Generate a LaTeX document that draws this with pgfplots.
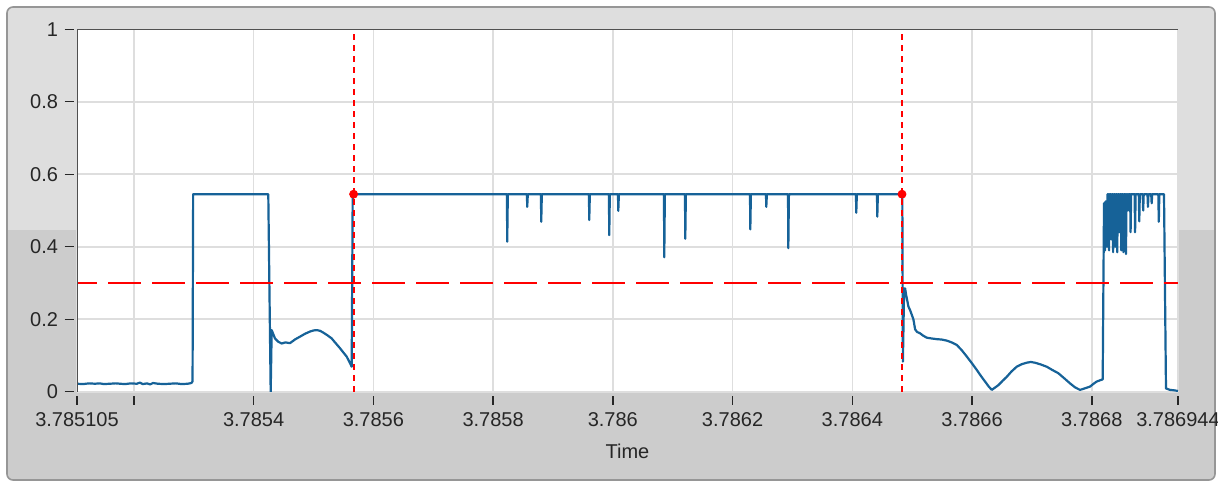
\documentclass[border=0pt]{standalone}
\usepackage{fontspec}
\setmainfont{Liberation Sans}
\usepackage{pgfplots}
\pgfplotsset{compat=1.18}
\definecolor{sig}{RGB}{22,98,152}
\definecolor{bglight}{RGB}{222,222,222}
\definecolor{bgdark}{RGB}{204,204,204}
\definecolor{frameline}{RGB}{150,150,150}
\definecolor{gridc}{RGB}{222,222,222}
\definecolor{boxline}{RGB}{80,80,80}
\definecolor{cur}{RGB}{255,0,0}
\begin{document}
\begin{tikzpicture}[x=1pt,y=1pt]
\useasboundingbox (-38.5,-45.15) rectangle (570.5,195.85);
\fill[white] (-38.5,-45.15) rectangle (570.5,195.85);
\begin{scope}
\clip[rounded corners=3pt] (-35,-44.15) rectangle (569,192.35);
\fill[bglight] (-35,80.85) rectangle (569,192.35);
\fill[bgdark] (-35,-44.15) rectangle (569,80.85);
\end{scope}
\draw[frameline, line width=0.8pt, rounded corners=3pt] (-35,-44.15) rectangle (569,192.35);
\begin{axis}[
  at={(0,0)}, anchor=south west,
  scale only axis, width=550.5pt, height=181.2pt,
  xmin=105, xmax=1944, ymin=0, ymax=1,
  axis background/.style={fill=white},
  axis line style={draw=none},
  tick pos=left, tick align=outside,
  major tick length=4.5pt,
  xtick style={black!85, line width=0.7pt, yshift=-2pt},
  ytick style={black!85, line width=0.7pt, xshift=-1.7pt},
  xtick={105,200,400,600,800,1000,1200,1400,1600,1800,1944},
  xticklabels={3.785105,,3.7854,3.7856,3.7858,3.786,3.7862,3.7864,3.7866,3.7868,3.786944},
  ytick={0,0.2,0.4,0.6,0.8,1},
  yticklabels={0,0.2,0.4,0.6,0.8,1},
  /pgf/number format/assume math mode=true,
  ticklabel style={font=\fontsize{10}{12}\selectfont, text=black!85},
  xticklabel style={yshift=-2.5pt},
  yticklabel style={xshift=-1.5pt},
  grid=major,
  major grid style={gridc, line width=0.8pt},
  xlabel={Time},
  xlabel style={font=\fontsize{10}{12}\selectfont, text=black!85, at={(rel axis cs:0.5,0)}, anchor=center, yshift=-30pt},
  clip=true,
]
\addplot[color=sig, line width=1.1pt, line join=round] coordinates {
(105,0.022) (115,0.021) (125,0.023) (135,0.022) (143,0.023) (150,0.021) (160,0.022) (170,0.023) (177,0.022) (185,0.021) (195,0.023) (205,0.022) (210,0.025) (215,0.021) (222,0.023) (227,0.020) (232,0.024) (240,0.022) (250,0.021) (260,0.022) (270,0.023) (280,0.021) (290,0.022) (296,0.024) (298,0.028) (299,0.545)
(424.5,0.545) (428.5,0.0) (430.2,0.17) (435.7,0.147) (441,0.138) (446.9,0.133) (453,0.136) (460.8,0.134) (469,0.144) (477.5,0.152) (486,0.16) (494.2,0.166) (500,0.169) (505.4,0.170) (511,0.168) (516.4,0.163) (523,0.156) (530.4,0.147) (537,0.134) (544.3,0.120) (550,0.108) (555.4,0.097) (560,0.082) (563.8,0.069) (565.5,0.545)
(823.1,0.545)(823.6,0.414)(824.6,0.545)
(856.5,0.545)(857,0.51)(858,0.545)
(879.9,0.545)(880.4,0.469)(881.4,0.545)
(960.1,0.545)(960.6,0.474)(961.6,0.545)
(993.5,0.545)(994,0.432)(995,0.545)
(1008.6,0.545)(1009.1,0.499)(1010.1,0.545)
(1085.4,0.545)(1085.9,0.371)(1086.9,0.545)
(1120.5,0.545)(1121,0.422)(1122,0.545)
(1229.1,0.545)(1229.6,0.448)(1230.6,0.545)
(1255.8,0.545)(1256.3,0.51)(1257.3,0.545)
(1292.6,0.545)(1293.1,0.396)(1294.1,0.545)
(1406.1,0.545)(1406.6,0.494)(1407.6,0.545)
(1441.2,0.545)(1441.7,0.483)(1442.7,0.545)
(1483.5,0.545)(1484.5,0.083)(1486.5,0.285)
(1488.2,0.285)(1489.9,0.267)(1493.7,0.235)(1496.5,0.225)(1502,0.200)(1504.9,0.172)(1508,0.165)(1513.2,0.161)(1518,0.155)(1524.4,0.149)(1532,0.147)(1541.1,0.145)(1549,0.144)(1557.8,0.141)(1566,0.136)(1574.5,0.129)(1583,0.114)(1591.2,0.097)(1600,0.078)(1607.9,0.060)(1615,0.043)(1621.7,0.028)(1628,0.014)(1632.9,0.005)(1638,0.011)(1643.9,0.018)(1651,0.030)(1657.9,0.041)(1666,0.056)(1674.6,0.069)(1683,0.076)(1691.3,0.080)(1698,0.082)(1705.2,0.080)(1715,0.075)(1724.7,0.069)(1734,0.060)(1744.1,0.051)(1754,0.037)(1763.6,0.023)(1772,0.012)(1780.3,0.005)(1788,0.009)(1797,0.014)(1803,0.022)(1808.2,0.028)(1813,0.031)(1818.2,0.034)(1820.4,0.52)
(1821.2,0.52)(1822.1,0.39)(1823,0.525)(1824.5,0.525)(1825.4,0.40)(1826.3,0.545)(1828,0.545)(1828.8,0.39)(1829.7,0.545)(1831.5,0.545)(1832.3,0.42)(1833.2,0.545)(1834.8,0.545)(1835.6,0.385)(1836.5,0.545)(1838.3,0.545)(1839.1,0.40)(1840,0.545)(1841.7,0.545)(1842.5,0.385)(1843.4,0.545)(1845.1,0.545)(1845.9,0.44)(1846.8,0.545)(1848.5,0.545)(1849.3,0.39)(1850.2,0.545)(1852,0.545)(1852.8,0.385)(1853.7,0.545)(1856.3,0.545)(1857.1,0.38)(1858,0.545)(1859.7,0.545)(1860.5,0.50)(1861.4,0.545)(1864,0.545)(1864.8,0.44)(1865.7,0.545)(1871.5,0.545)(1872.3,0.44)(1873.2,0.545)(1878.5,0.545)(1879.3,0.47)(1880.2,0.545)(1885,0.545)(1885.8,0.50)(1886.7,0.545)(1893,0.545)(1893.8,0.51)(1894.7,0.545)(1899.2,0.545)(1900,0.52)(1900.9,0.545)(1911.1,0.545)(1911.9,0.469)(1912.8,0.545)(1920.6,0.545)(1923.9,0.009)(1930.6,0.005)(1937,0.004)(1944,0.002)
};
\addplot[color=red, line width=0.75pt, dash pattern=on 16.5pt off 5.5pt, dash phase=6.5pt] coordinates {(105,0.3) (1944,0.3)};
\addplot[color=red, line width=0.9pt, dash pattern=on 3pt off 2.5pt] coordinates {(1483,0) (1483,1)};
\addplot[color=red, line width=0.9pt, dash pattern=on 3pt off 2.5pt] coordinates {(567,0) (567,1)};
\addplot[color=red, only marks, mark=*, mark size=2pt] coordinates {(567,0.545) (1483,0.545)};
\draw[boxline, line width=1.1pt] (rel axis cs:0,0) -- (rel axis cs:0,1) -- (rel axis cs:1,1);
\end{axis}
\end{tikzpicture}
\end{document}
